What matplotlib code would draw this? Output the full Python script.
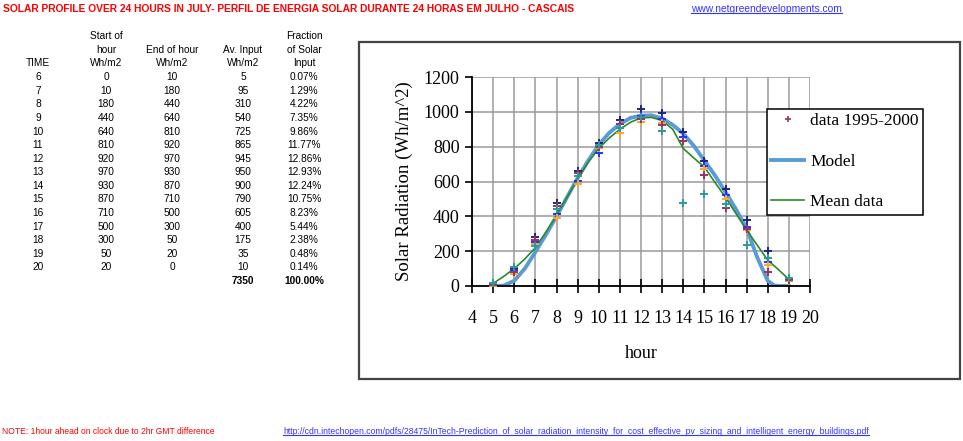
import matplotlib
matplotlib.use("Agg")
import matplotlib.pyplot as plt
from matplotlib.lines import Line2D
from matplotlib.patches import Rectangle

W, H = 963, 441

# ---- table data ----
time_h = [6, 7, 8, 9, 10, 11, 12, 13, 14, 15, 16, 17, 18, 19, 20]
start_wh = [0, 10, 180, 440, 640, 810, 920, 970, 930, 870, 710, 500, 300, 50, 20]
end_wh = [10, 180, 440, 640, 810, 920, 970, 930, 870, 710, 500, 300, 50, 20, 0]
avg_wh = [5, 95, 310, 540, 725, 865, 945, 950, 900, 790, 605, 400, 175, 35, 10]
fraction = ["0.07%", "1.29%", "4.22%", "7.35%", "9.86%", "11.77%", "12.86%", "12.93%",
            "12.24%", "10.75%", "8.23%", "5.44%", "2.38%", "0.48%", "0.14%"]
total_avg = "7350"
total_frac = "100.00%"

# ---- chart data ----
obs_hours = [5, 6, 7, 8, 9, 10, 11, 12, 13, 14, 15, 16, 17, 18, 19]
obs_navy = [15, 100, 280, 474, 662, 821, 952, 1016, 991, 885, 720, 559, 377, 201, 28]
obs_blue = [10, 94, 251, 416, 603, 765, 910, 975, 960, 856, 687, 520, 338, 138, 42]
obs_orange = [0, 71, 240, 391, 588, 790, 881, 939, 937, 830, 670, 500, 319, 120, 30]
obs_maroon = [5, 80, 265, 458, 646, 800, 930, 960, 923, 830, 637, 449, 330, 80, 35]
obs_teal = [15, 109, 230, 440, 630, 810, 910, 972, 888, 474, 530, 468, 235, 158, 48]

model_hour = [5, 5.5, 6, 6.5, 7, 7.5, 8, 8.5, 9, 9.5, 10, 10.5, 11, 11.5, 12, 12.5,
              13, 13.5, 14, 14.5, 15, 15.5, 16, 16.5, 17, 17.5, 18, 18.3, 18.6, 19]
model_val = [0, 2, 30, 100, 195, 295, 400, 510, 620, 720, 810, 880, 930, 965, 978, 980,
             962, 925, 875, 805, 720, 635, 540, 440, 330, 165, 30, 3, 0, 0]

mean_hour = [5, 5.5, 6, 6.5, 7, 7.5, 8, 8.5, 9, 9.5, 10, 10.5, 11, 11.5, 12, 12.5,
             13, 13.5, 14, 14.5, 15, 15.5, 16, 16.5, 17, 17.5, 18, 18.5, 19]
mean_val = [15, 55, 100, 155, 220, 310, 405, 510, 615, 710, 790, 850, 900, 940, 965, 968,
            950, 900, 790, 735, 683, 595, 509, 415, 322, 235, 148, 95, 38]

sans = "Liberation Sans"
serif = "Liberation Serif"
tfs = 7.3

fig = plt.figure(figsize=(W / 100, H / 100), dpi=100)


def px(x, y):
    return x / W, 1 - y / H


title = fig.text(*px(3, 9), "SOLAR PROFILE OVER 24 HOURS IN JULY- PERFIL DE ENERGIA SOLAR "
                 "DURANTE 24 HORAS EM JULHO - CASCAIS", color="#ff0000", fontweight="bold",
                 fontsize=7.37, family=sans, ha="left", va="center")
link1 = fig.text(*px(691, 9), "www.netgreendevelopments.com", color="#3333ff",
                 fontsize=7.4, family=sans, ha="left", va="center")

# table headers
col_x = [38, 106, 172, 243, 304]
hdr_y = [36, 50, 63]
headers = [
    ["", "", "TIME"],
    ["Start of", "hour", "Wh/m2"],
    ["", "End of hour", "Wh/m2"],
    ["", "Av. Input", "Wh/m2"],
    ["Fraction", "of Solar", "Input"],
]
for cx, lines in zip(col_x, headers):
    for yy, s in zip(hdr_y, lines):
        fig.text(*px(cx, yy), s, fontsize=tfs, family=sans, ha="center", va="center")

row0, step = 77.3, 13.57
for i in range(len(time_h)):
    yy = row0 + i * step
    vals = [time_h[i], start_wh[i], end_wh[i], avg_wh[i], fraction[i]]
    for cx, v in zip(col_x, vals):
        fig.text(*px(cx, yy), str(v), fontsize=tfs, family=sans, ha="center", va="center")
yy = row0 + len(time_h) * step
fig.text(*px(col_x[3], yy), total_avg, fontsize=tfs, family=sans, fontweight="bold",
         ha="center", va="center")
fig.text(*px(col_x[4], yy), total_frac, fontsize=tfs, family=sans, fontweight="bold",
         ha="center", va="center")

# chart frame
fig.patches.append(Rectangle((359 / W, 1 - 379 / H), (960 - 359) / W, (379 - 42) / H,
                             fill=False, edgecolor="#444444", lw=1.6,
                             transform=fig.transFigure))

ax = fig.add_axes([472 / W, 1 - 286 / H, (810 - 472) / W, (286 - 77) / H])
ax.set_xlim(4, 20)
ax.set_ylim(0, 1200)
ax.set_xticks(range(4, 21))
ax.set_yticks(range(0, 1201, 200))
ax.grid(True, color="#9a9a9a", lw=1.1)
ax.set_axisbelow(True)
for s in ["top", "right"]:
    ax.spines[s].set_visible(False)
for s in ["left", "bottom"]:
    ax.spines[s].set_color("black")
    ax.spines[s].set_linewidth(1.3)
ax.tick_params(axis="y", direction="out", length=5, width=1.2, pad=4, labelsize=13)
ax.tick_params(axis="x", direction="inout", length=10, width=1.2, pad=12, labelsize=13)
for lab in ax.get_xticklabels() + ax.get_yticklabels():
    lab.set_family(serif)
ax.set_xlabel("hour", family=serif, fontsize=13, labelpad=13)
ax.set_ylabel("Solar Radiation (Wh/m^2)", family=serif, fontsize=13.5, labelpad=8)

ax.plot(model_hour, model_val, color="#5b9bd5", lw=2.8, zorder=2, label="Model")
ax.plot(mean_hour, mean_val, color="#2a8a2a", lw=1.2, zorder=2.5, label="Mean data")
pts = [(obs_navy, "#23237a"), (obs_blue, "#2233ff"), (obs_orange, "#ffa630"),
       (obs_maroon, "#993366"), (obs_teal, "#2e9a9a")]
for vals, c in pts:
    ax.plot(obs_hours, vals, ls="none", marker="+", ms=6, mew=1.4, color=c, zorder=3)

handles = [Line2D([], [], ls="none", marker="+", ms=4, mew=1.2, color="#993366"),
           Line2D([], [], color="#5b9bd5", lw=2.8),
           Line2D([], [], color="#2a8a2a", lw=1.2)]
leg = ax.legend(handles, ["data 1995-2000", "Model", "Mean data"],
                loc="upper left", bbox_to_anchor=(767 / W, 1 - 109 / H),
                bbox_transform=fig.transFigure, prop={"family": serif, "size": 12.5},
                frameon=True, fancybox=False, framealpha=1, edgecolor="black",
                borderpad=0.25, labelspacing=1.4, handlelength=1.9,
                handletextpad=0.35, borderaxespad=0)
leg.get_frame().set_linewidth(1.1)

note = fig.text(*px(2, 432), "NOTE: 1hour ahead on clock due to 2hr GMT difference",
                color="#ff0000", fontsize=6.15, family=sans, ha="left", va="center")
link2 = fig.text(*px(283, 432), "http://cdn.intechopen.com/pdfs/28475/InTech-Prediction_of_"
                 "solar_radiation_intensity_for_cost_effective_pv_sizing_and_intelligent_"
                 "energy_buildings.pdf", color="#3333ff", fontsize=6.2, family=sans,
                 ha="left", va="center")

# underline the links
fig.canvas.draw()
renderer = fig.canvas.get_renderer()
for t in [link1, link2]:
    bb = t.get_window_extent(renderer)
    fig.add_artist(Line2D([bb.x0 / W, bb.x1 / W], [(bb.y0 + 1.5) / H] * 2,
                          color=t.get_color(), lw=0.8, transform=fig.transFigure))

fig.savefig("out.png", dpi=100)
